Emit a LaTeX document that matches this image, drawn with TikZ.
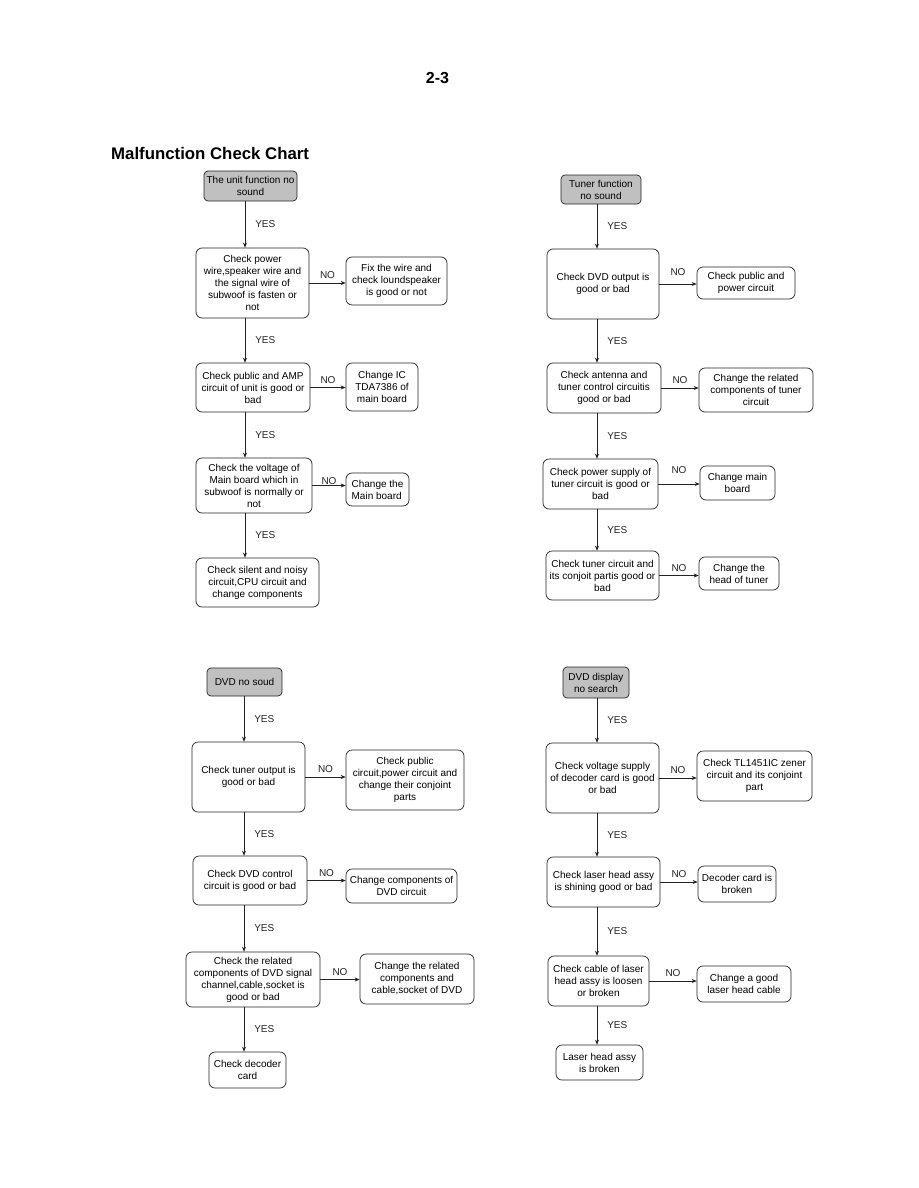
\documentclass[tikz,border=0pt]{standalone}
\usepackage{fontspec}
\setmainfont{Liberation Sans}
\usetikzlibrary{positioning,arrows.meta}
\definecolor{startGray}{RGB}{192,192,192}
\definecolor{lineDark}{RGB}{35,35,35}

\begin{document}
\begin{tikzpicture}[x=1pt, y=-1pt, >={Stealth[length=5pt,width=4pt]},
  chk/.style={draw=lineDark, line width=0.7pt, rectangle, rounded corners=6pt, align=center, inner sep=1pt, font=\fontsize{10}{12}\selectfont},
  startbox/.style={chk, fill=startGray, rounded corners=4pt},
  flow/.style={->, line width=0.6pt, lineDark},
  yeslbl/.style={midway, right=10pt, inner sep=0pt, font=\fontsize{10}{12}\selectfont},
  nolbl/.style={midway, above=4pt, inner sep=0pt, font=\fontsize{10}{12}\selectfont}]
  \useasboundingbox (0,0) rectangle (918,1188);

  \node[inner sep=0pt, font=\bfseries\fontsize{16}{19}\selectfont] (page) at (437.5,78) {2-3};
  \node[anchor=base west, inner sep=0pt, font=\bfseries\fontsize{16.8}{20}\selectfont] (title) at (111,160) {Malfunction Check Chart};

  \coordinate (colA) at (245,0);
  \coordinate (colB) at (597,0);
  \coordinate (colC) at (244,0);
  \coordinate (colD) at (597,0);

  % unit function no sound
  \node[startbox, minimum width=93pt, minimum height=30pt] (start1) at (250.5,186) {The unit function no\\sound};
  \node[chk, minimum width=113pt, minimum height=70pt] (a1) at (252.5,283) {Check power\\wire,speaker wire and\\the signal wire of\\subwoof is fasten or\\not};
  \node[chk, minimum width=101pt, minimum height=48pt] (a1n) at (396.5,281) {Fix the wire and\\check loundspeaker\\is good or not};
  \node[chk, minimum width=114pt, minimum height=49pt] (a2) at (253,387.5) {Check public and AMP\\circuit of unit is good or\\bad};
  \node[chk, minimum width=72pt, minimum height=48pt] (a2n) at (382,387) {Change IC\\TDA7386 of\\main board};
  \node[chk, minimum width=116pt, minimum height=55pt] (a3) at (254,485.5) {Check the voltage of\\Main board which in\\subwoof is normally or\\not};
  \node[chk, align=left, minimum width=63pt, minimum height=33pt] (a3n) at (377.5,489.5) {Change the\\Main board};
  \node[chk, minimum width=123pt, minimum height=49pt] (a4) at (257.5,582.5) {Check silent and noisy\\circuit,CPU circuit and\\change components};

  \draw[flow] (start1.south -| colA) -- node[yeslbl] {YES} (a1.north -| colA);
  \draw[flow] (a1.south -| colA) -- node[yeslbl] {YES} (a2.north -| colA);
  \draw[flow] (a2.south -| colA) -- node[yeslbl] {YES} (a3.north -| colA);
  \draw[flow] (a3.south -| colA) -- node[yeslbl] {YES} (a4.north -| colA);
  \draw[flow] (a1.east) -- node[nolbl] {NO} (a1.east -| a1n.west);
  \draw[flow] (a2.east) -- node[nolbl] {NO} (a2.east -| a2n.west);
  \draw[flow] (a3.east) -- node[nolbl, above=1pt] {NO} (a3.east -| a3n.west);

  % tuner function no sound
  \node[startbox, minimum width=80pt, minimum height=29pt] (start2) at (601,189.5) {Tuner function\\no sound};
  \node[chk, minimum width=112pt, minimum height=70pt] (b1) at (603,284) {Check DVD output is\\good or bad};
  \node[chk, minimum width=98pt, minimum height=32pt] (b1n) at (746,283) {Check public and\\power circuit};
  \node[chk, minimum width=114pt, minimum height=50pt] (b2) at (604,388) {Check antenna and\\tuner control circuitis\\good or bad};
  \node[chk, minimum width=114pt, minimum height=44pt] (b2n) at (756,390) {Change the related\\components of tuner\\circuit};
  \node[chk, minimum width=115pt, minimum height=50pt] (b3) at (600.5,484) {Check power supply of\\tuner circuit is good or\\bad};
  \node[chk, minimum width=75pt, minimum height=34pt] (b3n) at (737.5,483) {Change main\\board};
  \node[chk, minimum width=113pt, minimum height=49pt] (b4) at (602.5,575.5) {Check tuner circuit and\\its conjoit partis good or\\bad};
  \node[chk, minimum width=80pt, minimum height=33pt] (b4n) at (739,573.5) {Change the\\head of tuner};

  \draw[flow] (start2.south -| colB) -- node[yeslbl] {YES} (b1.north -| colB);
  \draw[flow] (b1.south -| colB) -- node[yeslbl] {YES} (b2.north -| colB);
  \draw[flow] (b2.south -| colB) -- node[yeslbl] {YES} (b3.north -| colB);
  \draw[flow] (b3.south -| colB) -- node[yeslbl] {YES} (b4.north -| colB);
  \draw[flow] (b1.east) -- node[nolbl, above=8pt] {NO} (b1.east -| b1n.west);
  \draw[flow] (b2.east) -- node[nolbl] {NO} (b2.east -| b2n.west);
  \draw[flow] (b3.east) -- node[nolbl, above=10pt] {NO} (b3.east -| b3n.west);
  \draw[flow] (b4.east) -- node[nolbl] {NO} (b4.east -| b4n.west);

  % DVD no sound
  \node[startbox, minimum width=75pt, minimum height=28pt] (start3) at (244.5,682) {DVD no soud};
  \node[chk, minimum width=113pt, minimum height=70pt] (c1) at (248.5,777) {Check tuner output is\\good or bad};
  \node[chk, minimum width=118pt, minimum height=60pt] (c1n) at (405,780) {Check public\\circuit,power circuit and\\change their conjoint\\parts};
  \node[chk, minimum width=114pt, minimum height=49pt] (c2) at (250,880.5) {Check DVD control\\circuit is good or bad};
  \node[chk, minimum width=111pt, minimum height=34pt] (c2n) at (401.5,886) {Change components of\\DVD circuit};
  \node[chk, minimum width=134pt, minimum height=55pt] (c3) at (253,979.5) {Check the related\\components of DVD signal\\channel,cable,socket is\\good or bad};
  \node[chk, minimum width=114pt, minimum height=50pt] (c3n) at (417,979) {Change the related\\components and\\cable,socket of DVD};
  \node[chk, minimum width=77pt, minimum height=36pt] (c4) at (247.5,1070) {Check decoder\\card};

  \draw[flow] (start3.south -| colC) -- node[yeslbl] {YES} (c1.north -| colC);
  \draw[flow] (c1.south -| colC) -- node[yeslbl] {YES} (c2.north -| colC);
  \draw[flow] (c2.south -| colC) -- node[yeslbl] {YES} (c3.north -| colC);
  \draw[flow] (c3.south -| colC) -- node[yeslbl] {YES} (c4.north -| colC);
  \draw[flow] (c1.east) -- node[nolbl] {NO} (c1.east -| c1n.west);
  \draw[flow] (c2.east) -- node[nolbl] {NO} (c2.east -| c2n.west);
  \draw[flow] (c3.east) -- node[nolbl] {NO} (c3.east -| c3n.west);

  % DVD display no search
  \node[startbox, minimum width=66pt, minimum height=31pt] (start4) at (596,682.5) {DVD display\\no search};
  \node[chk, minimum width=113pt, minimum height=70pt] (d1) at (602.5,778) {Check voltage supply\\of decoder card is good\\or bad};
  \node[chk, minimum width=115pt, minimum height=50pt] (d1n) at (754.5,776) {Check TL1451IC zener\\circuit and its conjoint\\part};
  \node[chk, minimum width=113pt, minimum height=50pt] (d2) at (603.5,882) {Check laser head assy\\is shining good or bad};
  \node[chk, minimum width=78pt, minimum height=36pt] (d2n) at (737,884) {Decoder card is\\broken};
  \node[chk, minimum width=101pt, minimum height=50pt] (d3) at (598.5,981) {Check cable of laser\\head assy is loosen\\or broken};
  \node[chk, minimum width=94pt, minimum height=36pt] (d3n) at (744,984) {Change a good\\laser head cable};
  \node[chk, minimum width=87pt, minimum height=35pt] (d4) at (599.5,1062.5) {Laser head assy\\is broken};

  \draw[flow] (start4.south -| colD) -- node[yeslbl] {YES} (d1.north -| colD);
  \draw[flow] (d1.south -| colD) -- node[yeslbl] {YES} (d2.north -| colD);
  \draw[flow] (d2.south -| colD) -- node[yeslbl] {YES} (d3.north -| colD);
  \draw[flow] (d3.south -| colD) -- node[yeslbl] {YES} (d4.north -| colD);
  \draw[flow] (d1.east) -- node[nolbl] {NO} (d1.east -| d1n.west);
  \draw[flow] (d2.east) -- node[nolbl] {NO} (d2.east -| d2n.west);
  \draw[flow] (d3.east) -- node[nolbl] {NO} (d3.east -| d3n.west);
\end{tikzpicture}
\end{document}
